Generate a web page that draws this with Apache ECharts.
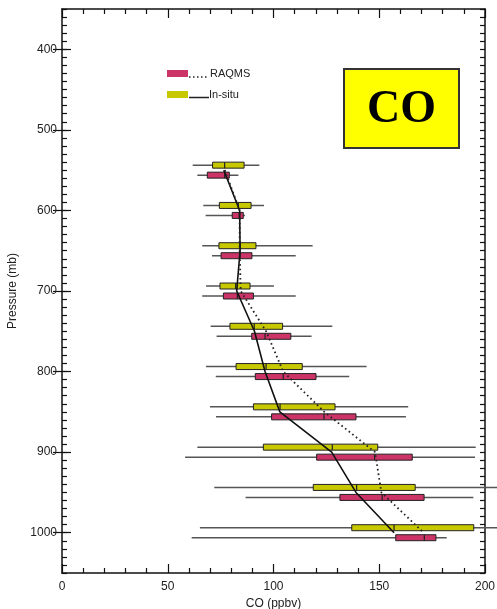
<!DOCTYPE html>
<html>
<head>
<meta charset="utf-8">
<script src="https://cdn.jsdelivr.net/npm/echarts@6/dist/echarts.min.js"></script>
<style>
html,body{margin:0;padding:0;background:#fff;}
#chart{width:497px;height:609px;}
</style>
</head>
<body>
<div id="chart"></div>
<script>
// Pressure levels (mb)
var levels = [550, 600, 650, 700, 750, 800, 850, 900, 950, 1000];
// In-situ box stats: [min, q1, median, q3, max] (ppbv)
var insituMin = [61.8, 66.8, 66.3, 68.1, 70.3, 68.1, 70.0, 64.0, 72.0, 65.2];
var insituQ1  = [71.2, 74.4, 74.2, 74.7, 79.4, 82.3, 90.5, 95.2, 118.8, 137.0];
var insituMed = [76.9, 83.4, 84.2, 82.1, 90.9, 96.5, 103.1, 127.8, 139.3, 157.0];
var insituQ3  = [86.1, 89.4, 91.7, 88.9, 104.3, 113.6, 129.1, 149.3, 167.0, 194.7];
var insituMax = [93.3, 95.5, 118.5, 100.2, 127.8, 144.0, 163.7, 195.6, 215.0, 215.0];
// RAQMS box stats
var raqmsMin = [64.0, 67.9, 70.9, 66.3, 73.1, 72.7, 72.8, 58.2, 86.8, 61.3];
var raqmsQ1  = [68.7, 80.5, 75.2, 76.3, 89.7, 91.4, 99.1, 120.4, 131.4, 157.8];
var raqmsMed = [76.9, 83.8, 84.2, 82.9, 96.0, 104.6, 123.9, 147.8, 151.4, 171.3];
var raqmsQ3  = [79.1, 85.7, 89.8, 90.5, 108.2, 120.1, 139.0, 165.6, 171.2, 176.8];
var raqmsMax = [83.4, 86.5, 110.5, 110.5, 118.0, 135.8, 162.6, 195.3, 194.5, 181.9];
// Profile lines
var insituLine = [76.5, 84.0, 84.2, 82.6, 91.0, 96.0, 103.0, 127.5, 139.0, 157.0];
var raqmsLine  = [77.0, 84.0, 84.0, 84.5, 96.5, 104.6, 124.0, 148.0, 151.0, 171.0];
// Tick labels
var yMajorTicks = [400, 500, 600, 700, 800, 900, 1000];
var xMajorTicks = [0, 50, 100, 150, 200];

var YELLOW = '#c8c800';
var PINK = '#cc3366';
var FONT = 'Liberation Sans, Arial, sans-serif';

function rows(mn, q1, md, q3, mx) {
  return levels.map(function (p, i) { return [p, mn[i], q1[i], md[i], q3[i], mx[i]]; });
}

function makeRender(offPx, color) {
  return function (params, api) {
    var p = api.value(0);
    var y = api.coord([0, p])[1] + offPx;
    var xlo = api.coord([api.value(1), p])[0];
    var xq1 = api.coord([api.value(2), p])[0];
    var xmd = api.coord([api.value(3), p])[0];
    var xq3 = api.coord([api.value(4), p])[0];
    var xhi = api.coord([api.value(5), p])[0];
    var h = 6;
    return {
      type: 'group',
      children: [
        { type: 'line', shape: { x1: xlo, y1: y, x2: xhi, y2: y },
          style: { stroke: '#555', lineWidth: 1.5 } },
        { type: 'rect', shape: { x: xq1, y: y - h / 2, width: xq3 - xq1, height: h },
          style: { fill: color, stroke: '#222', lineWidth: 1 } },
        { type: 'line', shape: { x1: xmd, y1: y - h / 2, x2: xmd, y2: y + h / 2 },
          style: { stroke: '#222', lineWidth: 1.2 } }
      ]
    };
  };
}

function xAxisDef(pos, showLabel) {
  return {
    type: 'value', position: pos, min: 0, max: 200, interval: 50,
    axisLine: { show: true, onZero: false, lineStyle: { color: '#111', width: 1.5 } },
    axisTick: { show: true, inside: true, length: 9, lineStyle: { color: '#111', width: 1.2 } },
    minorTick: { show: true, splitNumber: 5, length: 5, lineStyle: { color: '#111', width: 1.2 } },
    axisLabel: { show: showLabel, fontSize: 12, color: '#222', fontFamily: FONT, margin: 8,
      formatter: function (v) { return xMajorTicks.indexOf(v) >= 0 ? String(v) : ''; } },
    splitLine: { show: false },
    name: showLabel ? 'CO (ppbv)' : '', nameLocation: 'middle', nameGap: 24,
    nameTextStyle: { fontSize: 12, color: '#222', fontFamily: FONT }
  };
}

function yMinor(pos, showLabel) {
  return {
    type: 'value', position: pos, min: 350, max: 1050, interval: 10, inverse: true,
    axisLine: { show: true, onZero: false, lineStyle: { color: '#111', width: 1.5 } },
    axisTick: { show: true, inside: true, length: 5, lineStyle: { color: '#111', width: 1.2 } },
    axisLabel: { show: showLabel, fontSize: 12, color: '#222', fontFamily: FONT, margin: 5,
      formatter: function (v) { return yMajorTicks.indexOf(v) >= 0 ? String(v) : ''; } },
    splitLine: { show: false },
    name: showLabel ? 'Pressure (mb)' : '', nameLocation: 'middle', nameGap: 43,
    nameTextStyle: { fontSize: 12, color: '#222', fontFamily: FONT }
  };
}
function yMajor(pos) {
  return {
    type: 'value', position: pos, min: 350, max: 1050, inverse: true,
    axisLine: { show: false },
    axisTick: { show: true, inside: true, length: 9, customValues: yMajorTicks,
      lineStyle: { color: '#111', width: 1.2 } },
    axisLabel: { show: false },
    splitLine: { show: false }
  };
}

var chart = echarts.init(document.getElementById('chart'), null, { renderer: 'canvas' });
chart.setOption({
  animation: false,
  backgroundColor: '#fff',
  grid: { left: 62, right: 12, top: 9, bottom: 36, containLabel: false, outerBoundsMode: 'none' },
  xAxis: [xAxisDef('bottom', true), xAxisDef('top', false)],
  yAxis: [yMinor('left', true), yMajor('left'), yMinor('right', false), yMajor('right')],
  series: [
    { type: 'custom', name: 'In-situ', xAxisIndex: 0, yAxisIndex: 0, clip: false, z: 2,
      renderItem: makeRender(-5, YELLOW), encode: { x: [1, 2, 3, 4, 5], y: 0 },
      data: rows(insituMin, insituQ1, insituMed, insituQ3, insituMax) },
    { type: 'custom', name: 'RAQMS', xAxisIndex: 0, yAxisIndex: 0, clip: false, z: 2,
      renderItem: makeRender(5, PINK), encode: { x: [1, 2, 3, 4, 5], y: 0 },
      data: rows(raqmsMin, raqmsQ1, raqmsMed, raqmsQ3, raqmsMax) },
    { type: 'line', name: 'In-situ line', xAxisIndex: 0, yAxisIndex: 0, z: 5,
      showSymbol: false, symbol: 'none',
      lineStyle: { color: '#111', width: 1.6, type: 'solid' },
      data: levels.map(function (p, i) { return [insituLine[i], p]; }) },
    { type: 'line', name: 'RAQMS line', xAxisIndex: 0, yAxisIndex: 0, z: 5,
      showSymbol: false, symbol: 'none',
      lineStyle: { color: '#222', width: 1.8, type: [1.6, 3] },
      data: levels.map(function (p, i) { return [raqmsLine[i], p]; }) }
  ],
  graphic: [
    { type: 'rect', shape: { x: 167, y: 70, width: 21, height: 7 }, style: { fill: PINK } },
    { type: 'line', shape: { x1: 189, y1: 77, x2: 209, y2: 77 },
      style: { stroke: '#222', lineWidth: 1.5, lineDash: [1.5, 2.5] } },
    { type: 'text', x: 210, y: 74, style: { text: 'RAQMS', font: '11px ' + FONT, fill: '#222', verticalAlign: 'middle' } },
    { type: 'rect', shape: { x: 167, y: 91, width: 21, height: 7 }, style: { fill: YELLOW } },
    { type: 'line', shape: { x1: 189, y1: 97.5, x2: 209, y2: 97.5 },
      style: { stroke: '#222', lineWidth: 1.5 } },
    { type: 'text', x: 209, y: 95, style: { text: 'In-situ', font: '11px ' + FONT, fill: '#222', verticalAlign: 'middle' } },
    { type: 'rect', shape: { x: 344, y: 69, width: 115, height: 79 },
      style: { fill: '#ffff00', stroke: '#333', lineWidth: 2 } },
    { type: 'text', x: 401.5, y: 110, style: { text: 'CO', font: 'bold 46px Liberation Serif, Times New Roman, serif',
      fill: '#000', align: 'center', verticalAlign: 'middle' } }
  ]
});
</script>
</body>
</html>
